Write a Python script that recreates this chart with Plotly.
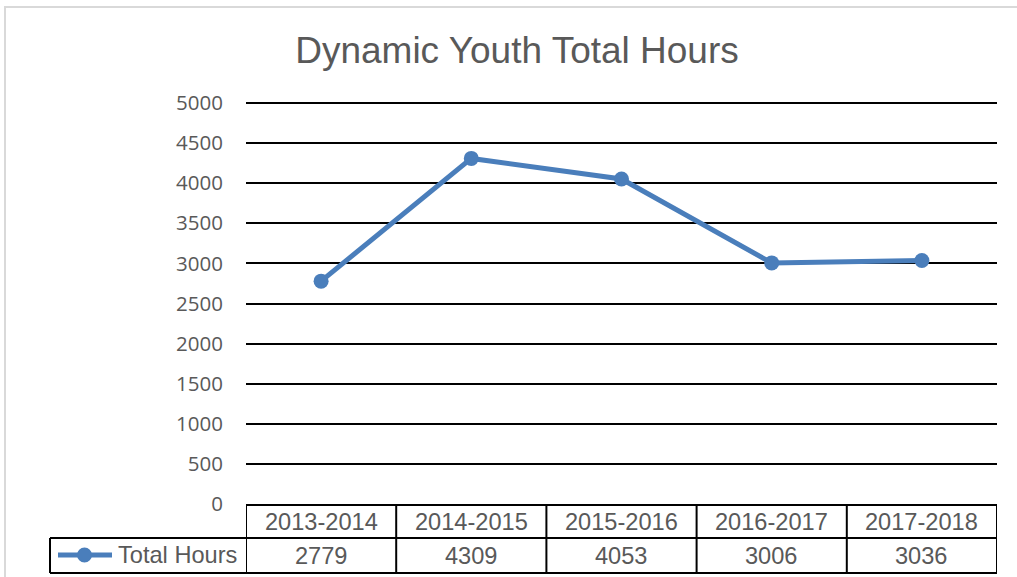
import plotly.graph_objects as go

categories = ["2013-2014", "2014-2015", "2015-2016", "2016-2017", "2017-2018"]
hours = [2779, 4309, 4053, 3006, 3036]
series_name = "Total Hours"
title_text = "Dynamic Youth Total Hours"
y_ticks = list(range(0, 5001, 500))

W, H = 1017, 577
L, R, T, B = 246, 20, 101, 73
pw = W - L - R
ph = H - T - B

def px_x(xp):
    return (xp - L) / pw

def px_y(yp):
    return (H - B - yp) / ph

LINE = "#4a7ebb"
TXT = "#595959"
TFONT = "Liberation Sans, Arial, sans-serif"

fig = go.Figure()
fig.add_trace(go.Scatter(
    x=list(range(len(categories))), y=hours, mode="lines+markers",
    line=dict(color=LINE, width=5), marker=dict(color=LINE, size=15),
    name=series_name, showlegend=False, cliponaxis=False, hoverinfo="skip"))

shapes = []
annotations = []
# outer chart border (light gray)
shapes.append(dict(type="rect", xref="paper", yref="paper",
                   x0=px_x(5), x1=px_x(W + 20), y0=px_y(H + 20), y1=px_y(7),
                   line=dict(color="#d9d9d9", width=2), layer="below"))

row_top = px_y(505)
row_mid = px_y(538)
row_bot = px_y(573)
n = len(categories)
shapes.append(dict(type="line", xref="x", yref="paper", x0=-0.5, x1=n - 0.5,
                   y0=row_top, y1=row_top, line=dict(color="black", width=2)))
shapes.append(dict(type="line", xref="paper", yref="paper", x0=px_x(50), x1=1,
                   y0=row_mid, y1=row_mid, line=dict(color="black", width=2)))
shapes.append(dict(type="line", xref="paper", yref="paper", x0=px_x(50), x1=1,
                   y0=row_bot, y1=row_bot, line=dict(color="black", width=2)))
for i in range(n + 1):
    shapes.append(dict(type="line", xref="x", yref="paper", x0=i - 0.5, x1=i - 0.5,
                       y0=row_bot, y1=row_top, line=dict(color="black", width=2)))
shapes.append(dict(type="line", xref="paper", yref="paper", x0=px_x(50), x1=px_x(50),
                   y0=row_bot, y1=row_mid, line=dict(color="black", width=2)))

for i, (c, v) in enumerate(zip(categories, hours)):
    annotations.append(dict(x=i, y=(row_top + row_mid) / 2, xref="x", yref="paper",
                            text=c, showarrow=False, yanchor="middle",
                            font=dict(family=TFONT, size=23.6, color=TXT)))
    annotations.append(dict(x=i, y=(row_mid + row_bot) / 2, xref="x", yref="paper",
                            text=str(v), showarrow=False, yanchor="middle",
                            font=dict(family=TFONT, size=23.6, color=TXT)))

# legend key in table
ly = px_y(555)
shapes.append(dict(type="line", xref="paper", yref="paper", x0=px_x(58), x1=px_x(112),
                   y0=ly, y1=ly, line=dict(color=LINE, width=5)))
shapes.append(dict(type="circle", xref="paper", yref="paper",
                   x0=px_x(77), x1=px_x(92), y0=px_y(562.5), y1=px_y(547.5),
                   fillcolor=LINE, line=dict(color=LINE, width=0)))
annotations.append(dict(x=px_x(116), y=ly, xref="paper", yref="paper", text=series_name,
                        showarrow=False, xanchor="left", yanchor="middle",
                        font=dict(family=TFONT, size=23.6, color=TXT)))

fig.update_layout(
    width=W, height=H,
    margin=dict(l=L, r=R, t=T, b=B),
    paper_bgcolor="white", plot_bgcolor="white",
    hovermode=False,
    title=dict(text=title_text, x=517 / W, xanchor="center", y=1 - 50 / H, yanchor="middle",
               font=dict(family=TFONT, size=37, color=TXT)),
    xaxis=dict(range=[-0.5, n - 0.5], showticklabels=False, showgrid=False,
               zeroline=False, showline=False, ticks=""),
    yaxis=dict(range=[0, 5025], tickvals=y_ticks, showgrid=True, gridcolor="black",
               gridwidth=2, zeroline=False, showline=False, ticks="",
               ticklabelstandoff=22,
               tickfont=dict(family="Open Sans, DejaVu Sans, sans-serif", size=20.5, color=TXT)),
    shapes=shapes, annotations=annotations,
)

fig.write_html("out.html", config={"displayModeBar": False},
               post_script="document.body.style.margin='0';")
